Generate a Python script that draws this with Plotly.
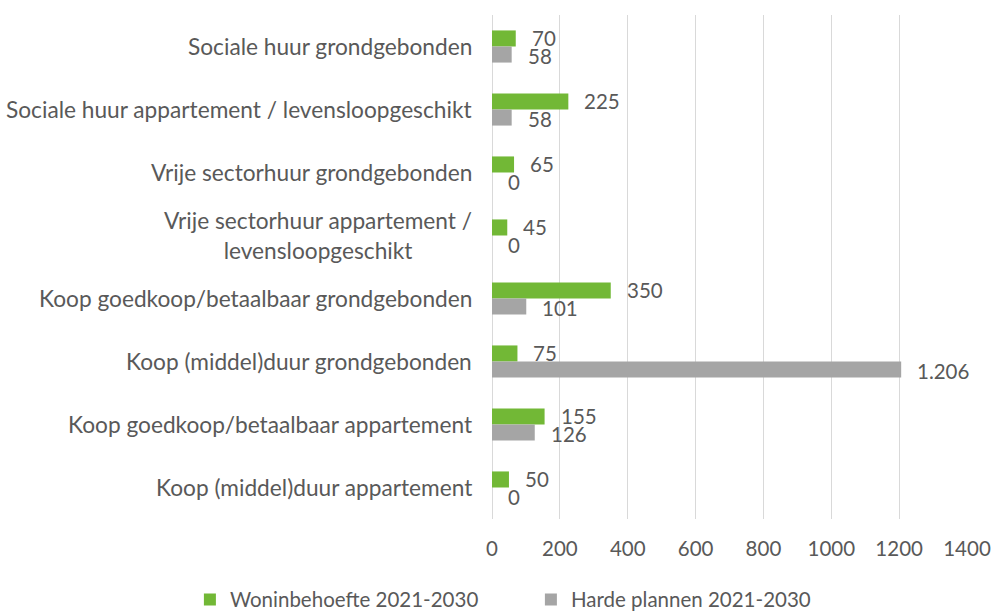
import plotly.graph_objects as go

categories = [
    "Sociale huur grondgebonden",
    "Sociale huur appartement / levensloopgeschikt",
    "Vrije sectorhuur grondgebonden",
    "Vrije sectorhuur appartement /<br>levensloopgeschikt",
    "Koop goedkoop/betaalbaar grondgebonden",
    "Koop (middel)duur grondgebonden",
    "Koop goedkoop/betaalbaar appartement",
    "Koop (middel)duur appartement",
]
woninbehoefte = [70, 225, 65, 45, 350, 75, 155, 50]
harde_plannen = [58, 58, 0, 0, 101, 1206, 126, 0]
series_names = ["Woninbehoefte 2021-2030", "Harde plannen 2021-2030"]
x_ticks = [0, 200, 400, 600, 800, 1000, 1200, 1400]

GREEN = "#72B836"
GREY = "#A5A5A5"
TXT = "#595959"
FONT = "Lato"
FS = 22.7
FSN = 20.5

def fmt(v):
    return f"{v:,}".replace(",", ".")

fig = go.Figure()
fig.add_trace(go.Bar(y=categories, x=woninbehoefte, orientation="h", name=series_names[0],
                     marker=dict(color=GREEN, line=dict(width=0))))
fig.add_trace(go.Bar(y=categories, x=harde_plannen, orientation="h", name=series_names[1],
                     marker=dict(color=GREY, line=dict(width=0))))

annotations = []
for cat, v1, v2 in zip(categories, woninbehoefte, harde_plannen):
    annotations.append(dict(x=v1, y=cat, xref="x", yref="y", text=fmt(v1), showarrow=False,
                            xanchor="left", yanchor="middle", xshift=14, yshift=9,
                            font=dict(family=FONT, size=FSN, color=TXT)))
    annotations.append(dict(x=v2, y=cat, xref="x", yref="y", text=fmt(v2), showarrow=False,
                            xanchor="left", yanchor="middle", xshift=14, yshift=-9,
                            font=dict(family=FONT, size=FSN, color=TXT)))
    annotations.append(dict(x=0, y=cat, xref="paper", yref="y", text=cat, showarrow=False,
                            xanchor="right", yanchor="middle", align="center", xshift=-18,
                            font=dict(family=FONT, size=FS, color=TXT)))

fig.update_layout(
    width=993, height=614,
    margin=dict(l=492, r=26, t=15, b=95, autoexpand=False),
    paper_bgcolor="white", plot_bgcolor="white",
    barmode="group", bargap=0.49, bargroupgap=0,
    font=dict(family=FONT, size=FS, color=TXT),
    showlegend=True,
    legend=dict(orientation="h", xref="paper", yref="paper", x=-0.636, y=-0.160,
                xanchor="left", yanchor="middle", font=dict(family=FONT, size=20.5, color=TXT),
                entrywidth=296, entrywidthmode="pixels", itemwidth=30, tracegroupgap=0),
    annotations=annotations,
    xaxis=dict(range=[0, 1400], tickvals=x_ticks, ticktext=[str(t) for t in x_ticks],
               showgrid=True, gridcolor="#D9D9D9", gridwidth=1.3, zeroline=True,
               zerolinecolor="#D9D9D9", zerolinewidth=1.3, showline=False, ticks="",
               ticklabelstandoff=15,
               tickfont=dict(family=FONT, size=FSN, color=TXT)),
    yaxis=dict(autorange="reversed", showticklabels=False, showgrid=False, ticks="",
               showline=False, zeroline=False),
)

fig.write_html("out.html", config={"displayModeBar": False},
               post_script="document.body.style.margin='0';document.body.style.overflow='hidden';")
